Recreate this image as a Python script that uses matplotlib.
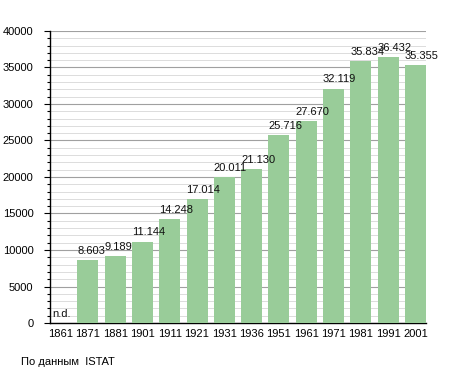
import matplotlib

matplotlib.use("Agg")
import matplotlib.pyplot as plt
import numpy as np
from matplotlib.ticker import MultipleLocator

YEARS = ["1861", "1871", "1881", "1901", "1911", "1921", "1931",
         "1936", "1951", "1961", "1971", "1981", "1991", "2001"]
POPULATION = [0, 8603, 9189, 11144, 14248, 17014, 20011,
              21130, 25716, 27670, 32119, 35834, 36432, 35355]
VALUE_LABELS = ["n.d.", "8.603", "9.189", "11.144", "14.248", "17.014", "20.011",
                "21.130", "25.716", "27.670", "32.119", "35.834", "36.432", "35.355"]
SOURCE = "По данным  ISTAT"

BAR_W = 0.77

plt.rcParams.update({
    "font.family": ["Liberation Sans", "DejaVu Sans"],
    "font.size": 8,
})

fig = plt.figure(figsize=(4.55, 3.73), dpi=100)
ax = fig.add_axes([0.110, 0.134, 0.826, 0.783])

x = np.arange(len(YEARS))
ax.bar(x, POPULATION, width=BAR_W, align="edge", color="#99cc99", zorder=3)

for xi, val, lab in zip(x, POPULATION, VALUE_LABELS):
    dx = 0.1 if lab == "n.d." else 0.0
    ax.annotate(lab, xy=(xi + dx, val), xytext=(0, 3), textcoords="offset points",
                ha="left", va="bottom", fontsize=8, color="#111111", zorder=4)

ax.set_xlim(0, len(YEARS) - 1 + BAR_W)
ax.set_ylim(0, 40000)
ax.set_xticks(x + BAR_W / 2)
ax.set_xticklabels(YEARS)
ax.yaxis.set_major_locator(MultipleLocator(5000))
ax.yaxis.set_minor_locator(MultipleLocator(1000))
ax.grid(axis="y", which="major", color="#a0a0a0", linewidth=0.8, zorder=0)
ax.grid(axis="y", which="minor", color="#dcdcdc", linewidth=0.7, zorder=0)
ax.tick_params(axis="x", length=0, pad=4)
ax.tick_params(axis="y", which="major", length=4, width=0.8, pad=8)
ax.tick_params(axis="y", which="minor", length=2.5, width=0.8)

for side in ("top", "right"):
    ax.spines[side].set_visible(False)
for side in ("left", "bottom"):
    ax.spines[side].set_linewidth(1.0)
    ax.spines[side].set_color("black")

fig.text(21 / 455, 1 - 362 / 373, SOURCE, ha="left", va="center", fontsize=8)

fig.savefig("out.png", dpi=100)
